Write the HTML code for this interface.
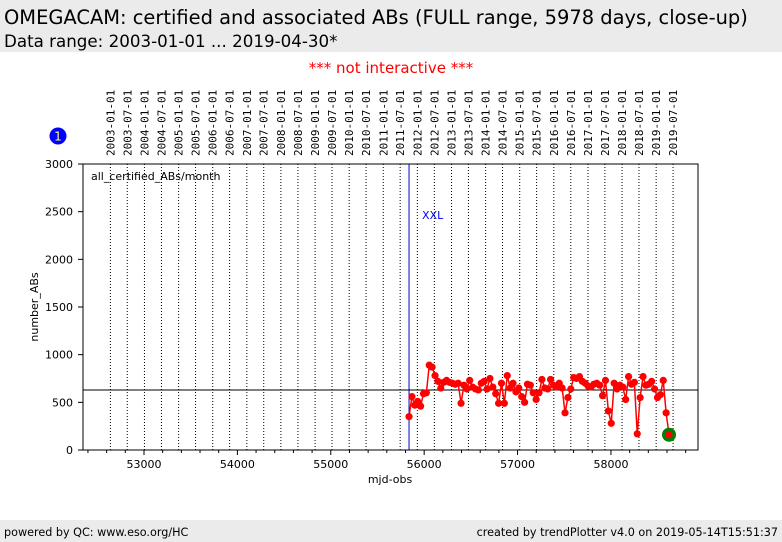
<!DOCTYPE html>
<html><head><meta charset="utf-8"><style>
body{margin:0;width:782px;height:542px;background:#fff;overflow:hidden;font-family:"DejaVu Sans","Liberation Sans",sans-serif;}
#hdr{position:absolute;left:0;top:0;width:782px;height:52px;background:#ebebeb;}
#t1{position:absolute;left:4px;top:6px;font-size:19.45px;color:#000;white-space:nowrap;}
#t2{position:absolute;left:4px;top:31px;font-size:16.7px;color:#000;white-space:nowrap;}
#ftr{position:absolute;left:0;top:520px;width:782px;height:22px;background:#ebebeb;font-size:11.2px;}
#ftr span{position:absolute;top:6px;white-space:nowrap;}
svg{position:absolute;left:0;top:0;}
</style></head><body>
<div id="hdr">
<div id="t1">OMEGACAM: certified and associated ABs (FULL range, 5978 days, close-up)</div>
<div id="t2">Data range: 2003-01-01 ... 2019-04-30*</div>
</div>
<svg id="chart" width="782" height="520" font-family="DejaVu Sans, Liberation Sans, sans-serif"></svg>
<div id="ftr">
<span style="left:4px">powered by QC: www.eso.org/HC</span>
<span style="right:4px">created by trendPlotter v4.0 on 2019-05-14T15:51:37</span>
</div>
<script>
const dateLabels=["2003-01-01","2003-07-01","2004-01-01","2004-07-01","2005-01-01","2005-07-01","2006-01-01","2006-07-01","2007-01-01","2007-07-01","2008-01-01","2008-07-01","2009-01-01","2009-07-01","2010-01-01","2010-07-01","2011-01-01","2011-07-01","2012-01-01","2012-07-01","2013-01-01","2013-07-01","2014-01-01","2014-07-01","2015-01-01","2015-07-01","2016-01-01","2016-07-01","2017-01-01","2017-07-01","2018-01-01","2018-07-01","2019-01-01","2019-07-01"];
const xTicks=[53000,54000,55000,56000,57000,58000];
const yTicks=[0,500,1000,1500,2000,2500,3000];
const startMjd=55838;
const stepDays=30.93;
const values=[350,560,470,510,460,590,600,890,870,780,720,650,710,730,710,700,690,700,490,680,640,730,660,640,630,700,720,640,750,660,590,490,700,490,780,650,700,610,650,560,500,690,680,600,530,600,740,650,640,740,680,660,700,650,390,550,640,760,750,770,720,700,670,660,690,700,680,570,730,410,280,700,640,680,660,530,770,690,710,170,550,770,680,690,720,640,550,580,730,390,160];
const refLevel=630;
const xxlMjd=55838;

const X0=83,X1=698,Y0=450,Y1=164;
const xMin=52347,xMax=58932,yMin=0,yMax=3000;
const xs=v=>X0+(v-xMin)/(xMax-xMin)*(X1-X0);
const ys=v=>Y0-(v-yMin)/(yMax-yMin)*(Y0-Y1);
function mjd(d){const t=Date.UTC(+d.slice(0,4),+d.slice(5,7)-1,+d.slice(8,10));return t/86400000+40587;}
const svg=document.getElementById('chart');
const NS='http://www.w3.org/2000/svg';
function mk(tag,attrs,parent){const e=document.createElementNS(NS,tag);for(const k in attrs)e.setAttribute(k,attrs[k]);(parent||svg).appendChild(e);return e;}

let e;
e=mk('text',{x:391,y:73,'font-size':15,fill:'#ff0000','text-anchor':'middle'});e.textContent='*** not interactive ***';


e=mk('circle',{cx:58,cy:136,r:8.5,fill:'#0000ff'});


e=mk('text',{x:58,y:140.5,'font-size':12,fill:'#ffff66','text-anchor':'middle'});e.textContent='1';



dateLabels.forEach(d=>{const x=xs(mjd(d));
 e=mk('line',{x1:x,x2:x,y1:Y1,y2:Y0,stroke:'#000','stroke-width':1,'stroke-dasharray':'1,2'});
 
 
 e=mk('text',{transform:`translate(${x+4},156) rotate(-90)`,'font-size':11,fill:'#000','font-family':'DejaVu Sans Mono, Liberation Mono, monospace'});e.textContent=d;
 
 
});
e=mk('rect',{x:X0,y:Y1,width:X1-X0,height:Y0-Y1,fill:'none',stroke:'#000','stroke-width':1});


yTicks.forEach(v=>{const y=ys(v);
 mk('line',{x1:X0-5,x2:X0,y1:y,y2:y,stroke:'#000'});
 e=mk('text',{x:X0-10,y:y+4,'font-size':11,'text-anchor':'end'});e.textContent=v;
 
 
});
for(let v=52400;v<=58900;v+=200){const x=xs(v);mk('line',{x1:x,x2:x,y1:Y0,y2:Y0+(v%1000===0?5:3),stroke:'#000'});}
xTicks.forEach(v=>{e=mk('text',{x:xs(v),y:Y0+18,'font-size':11,'text-anchor':'middle'});e.textContent=v;
 
 });
e=mk('text',{x:390,y:483,'font-size':11,'text-anchor':'middle'});e.textContent='mjd-obs';


e=mk('text',{transform:'translate(38,307) rotate(-90)','font-size':11,'text-anchor':'middle'});e.textContent='number_ABs';


e=mk('text',{x:91,y:180,'font-size':11});e.textContent='all_certified_ABs/month';


const xx=xs(xxlMjd);
e=mk('line',{x1:xx,x2:xx,y1:Y1,y2:Y0,stroke:'#0000cc','stroke-width':1});


e=mk('text',{x:xx+13,y:219,'font-size':11,fill:'#0000ff'});e.textContent='XXL';


e=mk('line',{x1:X0,x2:X1,y1:ys(refLevel),y2:ys(refLevel),stroke:'#000','stroke-width':1});


const pts=values.map((v,i)=>[xs(startMjd+i*stepDays),ys(v)]);
e=mk('polyline',{points:pts.map(p=>p.join(',')).join(' '),fill:'none',stroke:'#ff0000','stroke-width':1.5});


pts.forEach((p,i)=>{
 if(i===pts.length-1){e=mk('circle',{cx:p[0],cy:p[1],r:7,fill:'#008000'});
  
  }
 e=mk('circle',{cx:p[0],cy:p[1],r:3.6,fill:'#ff0000'});
 
 
});
</script>
</body></html>
